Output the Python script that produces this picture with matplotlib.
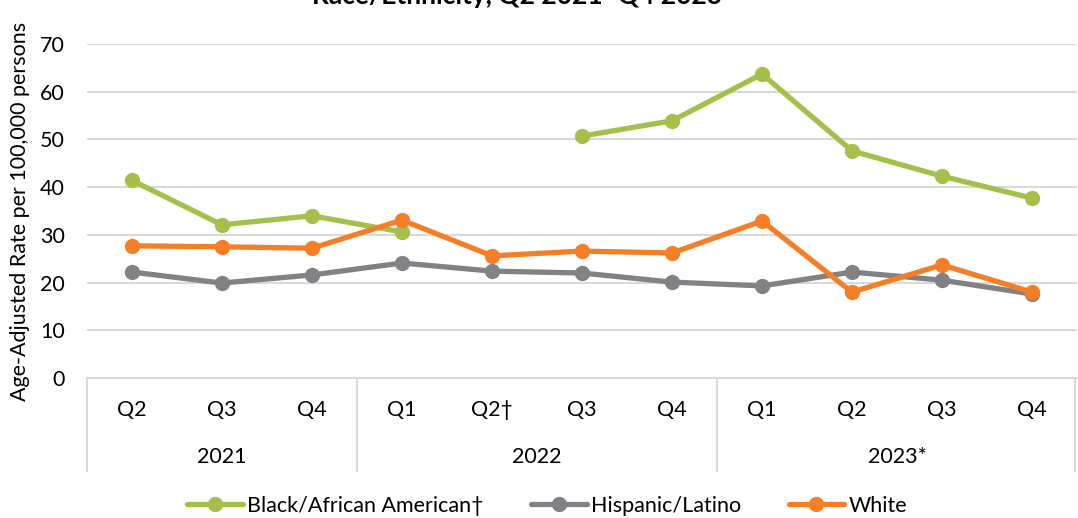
import matplotlib
matplotlib.use('Agg')
import matplotlib.pyplot as plt
import matplotlib.transforms as mtransforms
import numpy as np

plt.rcParams['font.family'] = ['Lato', 'DejaVu Sans']

quarters = ['Q2', 'Q3', 'Q4', 'Q1', 'Q2\u2020', 'Q3', 'Q4', 'Q1', 'Q2', 'Q3', 'Q4']
years = ['2021', '2022', '2023*']
year_spans = [(0, 3), (3, 7), (7, 11)]

black = [41.4, 32.1, 34.0, 30.6, np.nan, 50.7, 53.9, 63.7, 47.6, 42.3, 37.7]
hispanic = [22.2, 19.9, 21.6, 24.1, 22.4, 22.0, 20.1, 19.3, 22.2, 20.5, 17.6]
white = [27.7, 27.5, 27.2, 33.1, 25.6, 26.6, 26.2, 32.9, 18.0, 23.7, 18.0]

series = [
    ('Black/African American\u2020', black, '#A5C04A'),
    ('Hispanic/Latino', hispanic, '#808285'),
    ('White', white, '#F47F27'),
]

W, H = 1078, 518
fig = plt.figure(figsize=(W / 100, H / 100), dpi=100)
ax = fig.add_axes([87 / W, 140 / H, 990 / W, 334 / H])

x = np.arange(len(quarters))
for name, vals, col in series:
    ax.plot(x, vals, color=col, lw=3.8, marker='o', ms=10, label=name,
            solid_capstyle='round')

ax.set_xlim(-0.5, len(quarters) - 0.5)
ax.set_ylim(0, 70)
ax.set_yticks(range(0, 71, 10))
ax.tick_params(axis='y', length=0, labelsize=15.5, pad=16)
ax.set_xticks([])
ax.grid(axis='y', color='#D9D9D9', lw=1.5)
ax.set_axisbelow(True)
for s in ['top', 'right', 'left']:
    ax.spines[s].set_visible(False)
ax.spines['bottom'].set_color('#D9D9D9')
ax.spines['bottom'].set_linewidth(1.5)

ax.set_ylabel('Age-Adjusted Rate per 100,000 persons', fontsize=15.5, labelpad=7)

trans = mtransforms.blended_transform_factory(ax.transData, ax.transAxes)
for i, q in enumerate(quarters):
    ax.text(i, -0.096, q, transform=trans, ha='center', va='center', fontsize=15.5)
for yr, (a, b) in zip(years, year_spans):
    ax.text((a + b - 1) / 2, -0.2365, yr, transform=trans, ha='center', va='center', fontsize=15.5)
for b in [-0.5, 2.5, 6.5, 10.48]:
    ax.plot([b, b], [0, -0.278], transform=trans, color='#D9D9D9', lw=1.5, clip_on=False)

# title line is clipped at the top edge, as in the source image
fig.text(517 / W, 1 - 4 / H, 'Race/Ethnicity, Q2 2021\u2013Q4 2023', ha='center',
         va='baseline', fontsize=19, fontweight='bold')

fig.legend(loc='center', bbox_to_anchor=(547 / W, 1 - 506 / H), ncol=3, frameon=False,
           fontsize=15.5, handlelength=2.6, columnspacing=2.2, handletextpad=0.2)

fig.savefig('out.png', dpi=100)
